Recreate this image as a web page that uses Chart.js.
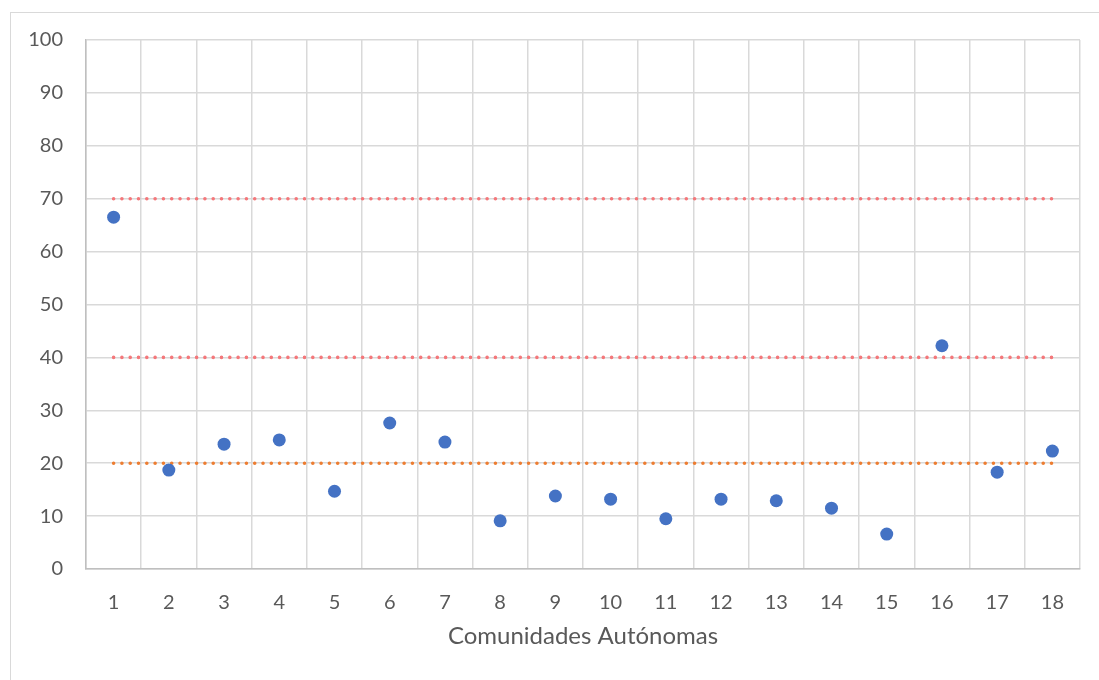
<!DOCTYPE html>
<html>
<head>
<meta charset="utf-8">
<script src="https://cdn.jsdelivr.net/npm/chart.js@4/dist/chart.umd.min.js"></script>
<style>
  html, body { margin: 0; padding: 0; background: #fff; }
  #wrap { position: relative; width: 1099px; height: 680px; }
  #frame { position: absolute; left: 10px; top: 12px; width: 1200px; height: 800px; border: 1px solid #d9d9d9; box-sizing: border-box; }
  canvas { position: absolute; left: 0; top: 0; }
</style>
</head>
<body>
<div id="wrap">
  <div id="frame"></div>
  <canvas id="chart" width="1099" height="680"></canvas>
</div>
<script>
// categories (comunidades 1..18)
const comunidades = ['1','2','3','4','5','6','7','8','9','10','11','12','13','14','15','16','17','18'];
// series values
const valores = [66.5, 18.7, 23.6, 24.4, 14.7, 27.6, 24.0, 9.1, 13.8, 13.2, 9.5, 13.2, 12.9, 11.5, 6.6, 42.2, 18.3, 22.3];
// reference thresholds
const umbrales = [70, 40, 20];
const coloresUmbral = ['#F4777A', '#F4777A', '#ED7D31'];
const yTicks = [0, 10, 20, 30, 40, 50, 60, 70, 80, 90, 100];

const font = 'Lato, "Open Sans", sans-serif';

const lineDatasets = umbrales.map((u, i) => ({
    type: 'line',
    data: [{ x: comunidades[0], y: u }, { x: comunidades[comunidades.length - 1], y: u }],
    borderColor: coloresUmbral[i],
    borderWidth: 3.6,
    borderDash: [0, 8.3],
    borderCapStyle: 'round',
    pointRadius: 0,
    fill: false,
    order: 2
}));

const ctx = document.getElementById('chart').getContext('2d');
new Chart(ctx, {
    type: 'line',
    data: {
        labels: comunidades,
        datasets: [{
            data: valores,
            showLine: false,
            pointRadius: 6.5,
            pointHoverRadius: 6.5,
            pointBackgroundColor: '#4472C4',
            pointBorderColor: '#4472C4',
            pointBorderWidth: 0,
            order: 1
        }, ...lineDatasets]
    },
    options: {
        responsive: false,
        animation: false,
        layout: { padding: { left: 0, right: 19, top: 40, bottom: 0 } },
        plugins: { legend: { display: false }, tooltip: { enabled: false } },
        scales: {
            x: {
                type: 'category',
                offset: true,
                grid: { offset: true, color: '#d9d9d9', lineWidth: 1.5, drawTicks: false },
                border: { color: '#bfbfbf', width: 1.5 },
                ticks: { color: '#595959', font: { family: font, size: 20 }, padding: 22, maxRotation: 0 },
                title: {
                    display: true,
                    text: 'Comunidades Autónomas',
                    color: '#595959',
                    font: { family: font, size: 24 },
                    padding: { top: 0, bottom: 29 }
                },
                afterFit: (scale) => { scale.height = 111; }
            },
            y: {
                min: 0,
                max: 100,
                afterBuildTicks: (scale) => { scale.ticks = yTicks.map(v => ({ value: v })); },
                grid: { color: '#d9d9d9', lineWidth: 1.5, drawTicks: false },
                border: { color: '#bfbfbf', width: 1.5 },
                ticks: { color: '#595959', font: { family: font, size: 20 }, padding: 23 },
                afterFit: (scale) => { scale.width = 86; }
            }
        }
    }
});
</script>
</body>
</html>
